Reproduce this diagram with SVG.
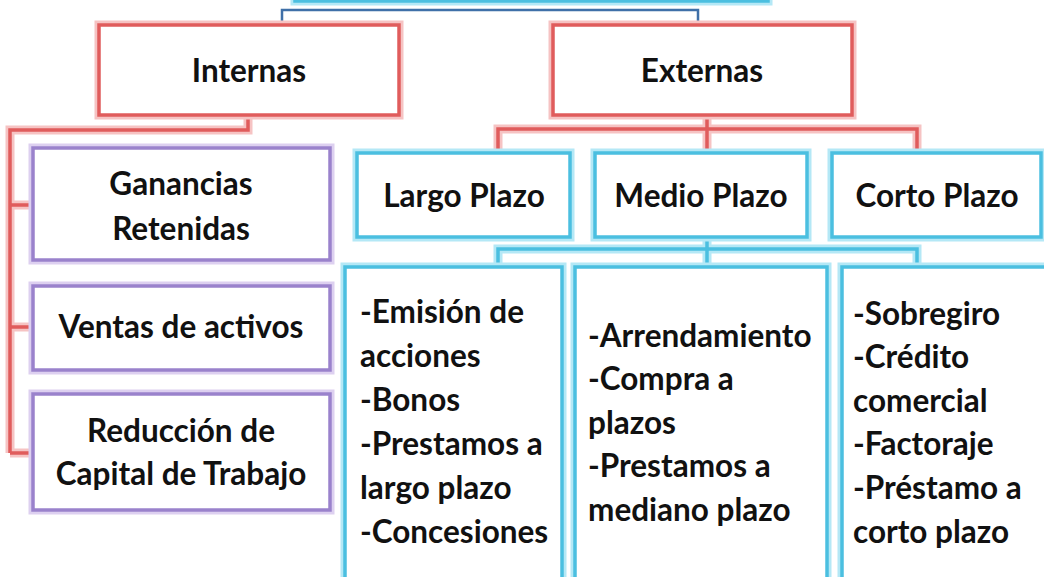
<svg xmlns="http://www.w3.org/2000/svg" width="1044" height="577" viewBox="0 0 1044 577">
<style>
.bg{fill:#ffffff}
.halo-r{fill:none;stroke:#f6c3c3;stroke-width:9}
.line-r{fill:none;stroke:#e05c5c;stroke-width:3.5}
.halo-p{fill:none;stroke:#ddd0f0;stroke-width:9}
.line-p{fill:none;stroke:#9a82cc;stroke-width:3.5}
.halo-c{fill:none;stroke:#b4e8f6;stroke-width:9}
.line-c{fill:none;stroke:#4bbfe0;stroke-width:3.5}
.box{fill:#ffffff}
.t{font-family:Lato,"Open Sans","Liberation Sans",sans-serif;font-weight:bold;font-size:31.5px;fill:#111111}
.m{text-anchor:middle}
</style>
<rect class="bg" x="0" y="0" width="1044" height="577"/>

<g id="connectors">
  <path d="M282,25 V10 H698 V25" fill="none" stroke="#3f70a8" stroke-width="2.5"/>
  <path class="halo-r" d="M248,115 V130 H10 V453 M10,205 H33 M10,327 H33 M10,453 H33"/>
  <path class="line-r" d="M248,115 V130 H10 V453 M10,205 H33 M10,327 H33 M10,453 H33"/>
  <path class="halo-r" d="M707,115 V152 M498,152 V129 H917 V152"/>
  <path class="line-r" d="M707,115 V152 M498,152 V129 H917 V152"/>
  <path class="halo-c" d="M707,237 V266 M498,266 V249 H917 V266"/>
  <path class="line-c" d="M707,237 V266 M498,266 V249 H917 V266"/>
</g>

<g id="top-box">
  <rect class="halo-c" x="295" y="-50" width="473" height="51"/>
  <rect class="line-c" x="295" y="-50" width="473" height="51"/>
</g>

<g id="internas">
  <rect class="halo-r" x="99" y="25" width="300" height="90"/>
  <rect class="box" x="99" y="25" width="300" height="90"/>
  <rect class="line-r" x="99" y="25" width="300" height="90"/>
  <text class="t m" x="249" y="82">Internas</text>
</g>

<g id="externas">
  <rect class="halo-r" x="553" y="25" width="299" height="90"/>
  <rect class="box" x="553" y="25" width="299" height="90"/>
  <rect class="line-r" x="553" y="25" width="299" height="90"/>
  <text class="t m" x="702" y="82">Externas</text>
</g>

<g id="ganancias">
  <rect class="halo-p" x="33" y="148" width="297" height="112"/>
  <rect class="box" x="33" y="148" width="297" height="112"/>
  <rect class="line-p" x="33" y="148" width="297" height="112"/>
  <text class="t m" x="181" y="195">Ganancias</text>
  <text class="t m" x="181" y="240">Retenidas</text>
</g>

<g id="ventas">
  <rect class="halo-p" x="33" y="286" width="297" height="84"/>
  <rect class="box" x="33" y="286" width="297" height="84"/>
  <rect class="line-p" x="33" y="286" width="297" height="84"/>
  <text class="t m" x="181" y="338">Ventas de activos</text>
</g>

<g id="reduccion">
  <rect class="halo-p" x="33" y="394" width="297" height="116"/>
  <rect class="box" x="33" y="394" width="297" height="116"/>
  <rect class="line-p" x="33" y="394" width="297" height="116"/>
  <text class="t m" x="181" y="442">Reducción de</text>
  <text class="t m" x="181" y="485">Capital de Trabajo</text>
</g>

<g id="largo">
  <rect class="halo-c" x="357" y="153" width="213" height="84"/>
  <rect class="box" x="357" y="153" width="213" height="84"/>
  <rect class="line-c" x="357" y="153" width="213" height="84"/>
  <text class="t m" x="464" y="207">Largo Plazo</text>
</g>

<g id="medio">
  <rect class="halo-c" x="595" y="153" width="212" height="84"/>
  <rect class="box" x="595" y="153" width="212" height="84"/>
  <rect class="line-c" x="595" y="153" width="212" height="84"/>
  <text class="t m" x="701" y="207">Medio Plazo</text>
</g>

<g id="corto">
  <rect class="halo-c" x="832" y="153" width="209" height="84"/>
  <rect class="box" x="832" y="153" width="209" height="84"/>
  <rect class="line-c" x="832" y="153" width="209" height="84"/>
  <text class="t m" x="937" y="207">Corto Plazo</text>
</g>

<g id="largo-list">
  <rect class="halo-c" x="345" y="267" width="217" height="330"/>
  <rect class="box" x="345" y="267" width="217" height="330"/>
  <rect class="line-c" x="345" y="267" width="217" height="330"/>
  <text class="t" x="360" y="323">-Emisión de</text>
  <text class="t" x="360" y="367">acciones</text>
  <text class="t" x="360" y="411">-Bonos</text>
  <text class="t" x="360" y="455">-Prestamos a</text>
  <text class="t" x="360" y="499">largo plazo</text>
  <text class="t" x="360" y="543">-Concesiones</text>
</g>

<g id="medio-list">
  <rect class="halo-c" x="575" y="267" width="252" height="330"/>
  <rect class="box" x="575" y="267" width="252" height="330"/>
  <rect class="line-c" x="575" y="267" width="252" height="330"/>
  <text class="t" x="588" y="347">-Arrendamiento</text>
  <text class="t" x="588" y="390">-Compra a</text>
  <text class="t" x="588" y="434">plazos</text>
  <text class="t" x="588" y="477">-Prestamos a</text>
  <text class="t" x="588" y="521">mediano plazo</text>
</g>

<g id="corto-list">
  <rect class="halo-c" x="842" y="267" width="220" height="330"/>
  <rect class="box" x="842" y="267" width="220" height="330"/>
  <rect class="line-c" x="842" y="267" width="220" height="330"/>
  <text class="t" x="853" y="325">-Sobregiro</text>
  <text class="t" x="853" y="368">-Crédito</text>
  <text class="t" x="853" y="412">comercial</text>
  <text class="t" x="853" y="455">-Factoraje</text>
  <text class="t" x="853" y="499">-Préstamo a</text>
  <text class="t" x="853" y="543">corto plazo</text>
</g>
</svg>
